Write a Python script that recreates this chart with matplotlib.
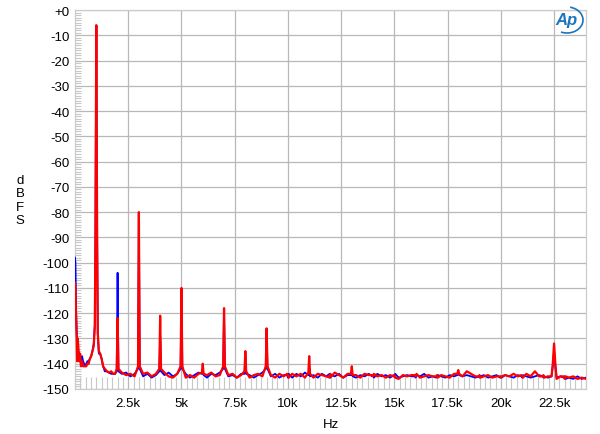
import matplotlib
matplotlib.use("Agg")
import matplotlib.pyplot as plt
from matplotlib.patches import Arc
from matplotlib.ticker import MultipleLocator

# ---------------- data (kHz, dBFS) ----------------
freq_low = [0.0, 0.02, 0.05, 0.08, 0.10, 0.13, 0.16, 0.20, 0.24, 0.28,
            0.33, 0.38, 0.43, 0.48, 0.53, 0.58, 0.64, 0.70, 0.76, 0.82,
            0.88, 0.93, 0.96, 1.00, 1.04, 1.07, 1.12, 1.18, 1.25, 1.32,
            1.40, 1.50, 1.60, 1.70, 1.80, 1.88]
blue_low = [-98, -100, -118, -128, -133, -131, -136, -139, -138, -140,
            -137, -139, -140, -141, -140, -139, -139, -138, -137, -135,
            -132, -125, -90, -6.2, -90, -128, -136, -136, -138, -141,
            -143, -143, -143.5, -144, -144, -144]
red_low = [-108, -110, -122, -130, -139, -130, -134, -139, -136, -141,
           -139, -141, -141, -141, -141, -140, -140, -138, -137, -135,
           -133, -125, -90, -6.0, -90, -128, -135, -136, -138, -141,
           -142, -143, -143.5, -143, -144, -144]

freq_mid = [1.96, 2.0, 2.04, 2.2, 2.4, 2.6, 2.8,
            2.96, 3.0, 3.04, 3.2, 3.4, 3.6, 3.8,
            3.96, 4.0, 4.04, 4.2, 4.4, 4.6, 4.8,
            4.96, 5.0, 5.04, 5.2, 5.4, 5.6, 5.8,
            5.96, 6.0, 6.04, 6.2, 6.4, 6.6, 6.8,
            6.96, 7.0, 7.04, 7.2, 7.4, 7.6, 7.8,
            7.96, 8.0, 8.04, 8.2, 8.4, 8.6, 8.8,
            8.96, 9.0, 9.04, 9.2, 9.4, 9.6, 9.8,
            9.96, 10.0, 10.04, 10.2, 10.4, 10.6, 10.8,
            10.96, 11.0, 11.04, 11.2, 11.4, 11.6, 11.8,
            11.96, 12.0, 12.04, 12.2, 12.4, 12.6, 12.8,
            12.96, 13.0, 13.04, 13.2, 13.4, 13.6, 13.8]
blue_mid = [-143, -104, -143, -144, -143.5, -145, -144,
            -142, -81, -142, -145, -144, -145.5, -144.5,
            -143, -129, -143, -144.5, -143.5, -145, -144,
            -142, -111, -142, -144, -145.5, -144.5, -143.5,
            -144, -143, -144.5, -145.5, -144, -144.5, -143.5,
            -142, -119, -142, -145, -144.5, -145.5, -144,
            -144, -137, -144, -144.5, -145.5, -144.5, -143.5,
            -142, -127, -142, -145, -144, -145.5, -144.5,
            -144.5, -145.5, -144, -145.5, -144, -145, -143.5,
            -144.5, -144, -145, -144.5, -145.5, -144, -145,
            -144, -145.5, -144.5, -145, -144, -145.5, -144.5,
            -144.5, -144, -145, -145.5, -144.5, -145, -144]
red_mid = [-142, -122, -142, -143.5, -144.5, -144, -145,
           -141, -80, -141, -144, -143.5, -145, -144,
           -142, -121, -142, -143.5, -145, -145.5, -144,
           -141, -110, -141, -145.5, -144.5, -145.5, -144,
           -143.5, -140, -144, -144.5, -143.5, -145, -144.5,
           -141, -118, -141, -144.5, -144, -145.5, -144.5,
           -143, -135, -143, -145.5, -144.5, -144, -145,
           -141, -126, -141, -144.5, -145.5, -144, -145,
           -144, -144.5, -145.5, -144, -145, -144, -145.5,
           -143.5, -137, -144, -145.5, -144, -144.5, -145,
           -145.5, -144, -145, -143.5, -144.5, -145.5, -144,
           -144, -141, -144.5, -144.5, -145.5, -144, -144.5]

freq_high = [13.96, 14.0, 14.04, 14.2, 14.4, 14.6, 14.8,
             14.96, 15.0, 15.04, 15.2, 15.4, 15.6, 15.8,
             15.96, 16.0, 16.04, 16.2, 16.4, 16.6, 16.8,
             16.96, 17.0, 17.04, 17.2, 17.4, 17.6, 17.8,
             17.96, 18.0, 18.04, 18.2, 18.4, 18.6, 18.8,
             18.96, 19.0, 19.04, 19.2, 19.4, 19.6, 19.8,
             19.96, 20.0, 20.04, 20.2, 20.4, 20.6, 20.8,
             20.96, 21.0, 21.04, 21.2, 21.4, 21.6, 21.8,
             21.96, 22.0, 22.04, 22.2, 22.38, 22.44, 22.5, 22.56, 22.62, 22.8,
             22.96, 23.0, 23.04, 23.2, 23.4, 23.6, 23.8, 24.0]
blue_high = [-145, -144.5, -145.5, -144, -145, -144.5, -145.5,
             -144.5, -145, -144, -145.5, -145, -144.5, -145,
             -145, -145.5, -144.5, -145, -144, -145.5, -145,
             -145.5, -145, -144.5, -145, -145.5, -144.5, -145,
             -144.5, -143.5, -144.5, -145, -144.5, -145, -145.5,
             -145, -145.5, -145, -144.5, -145.5, -145, -144.5,
             -145.5, -145, -145.5, -144.5, -145, -145.5, -144.5,
             -145, -145.5, -144.5, -145, -145.5, -145, -144.5,
             -145, -145.5, -145, -145.5, -145, -141, -135, -141, -145.5, -145,
             -145.5, -145, -146, -145.5, -146, -145, -146, -145.5]
red_high = [-144.5, -145, -144, -145, -144.5, -145.5, -144.5,
            -145, -144.5, -145.5, -146, -144.5, -145, -144.5,
            -144.5, -145, -144, -145.5, -145, -144.5, -145,
            -145, -144.5, -145.5, -144.5, -145, -145.5, -144,
            -144, -142.5, -144, -145, -143, -144, -145,
            -145, -144.5, -145.5, -145, -144.5, -145.5, -145,
            -145, -145.5, -145, -144.5, -145, -144, -145,
            -144.5, -145, -145.5, -144, -145, -143, -145,
            -145, -144.5, -145.5, -145, -145, -140, -132, -140, -146, -145,
            -145, -146, -145, -145.5, -145, -146, -145.5, -146]

y_ticks = [0, -10, -20, -30, -40, -50, -60, -70, -80, -90, -100,
           -110, -120, -130, -140, -150]
y_labels = ["+0", "-10", "-20", "-30", "-40", "-50", "-60", "-70", "-80",
            "-90", "-100", "-110", "-120", "-130", "-140", "-150"]
x_ticks = [2.5, 5, 7.5, 10, 12.5, 15, 17.5, 20, 22.5]
x_labels = ["2.5k", "5k", "7.5k", "10k", "12.5k", "15k", "17.5k", "20k", "22.5k"]

freq = freq_low + freq_mid + freq_high
blue = blue_low + blue_mid + blue_high
red = red_low + red_mid + red_high

# ---------------- figure ----------------
plt.rcParams['font.family'] = ['Liberation Sans', 'DejaVu Sans']
fig = plt.figure(figsize=(6.0, 4.35), dpi=100)
ax = fig.add_axes([75 / 600, 45 / 435, 511 / 600, 379 / 435])

grid_c = "#b8b8b8"
ax.plot(freq, blue, color="#0000ff", lw=1.3, zorder=3)
ax.plot(freq, red, color="#ff0000", lw=1.6, zorder=4)

ax.set_xlim(0, 24)
ax.set_ylim(-150, 0)
ax.set_yticks(y_ticks)
ax.set_yticklabels(y_labels)
ax.set_xticks(x_ticks)
ax.set_xticklabels(x_labels)
ax.yaxis.set_minor_locator(MultipleLocator(1))
ax.xaxis.set_minor_locator(MultipleLocator(0.25))
ax.grid(True, which="major", color=grid_c, lw=0.9)
ax.tick_params(axis="both", which="major", length=0, labelsize=9.5,
               colors="#000000", pad=4)
ax.tick_params(axis="y", which="minor", direction="in", length=4,
               color="#c8c8c8", width=0.8)
ax.tick_params(axis="x", which="minor", direction="in", length=9,
               color="#c8c8c8", width=0.8)
ax.tick_params(axis="x", which="major", pad=6)
for s in ax.spines.values():
    s.set_color("#cccccc")
    s.set_linewidth(0.9)

ax.set_xlabel("Hz", fontsize=9.5, labelpad=6)
fig.text(20 / 600, 1 - 201 / 435, "d\nB\nF\nS", ha="center", va="center",
         fontsize=9.5, linespacing=1.15)

# Ap logo
fig.text(566 / 600, 1 - 21 / 435, "Ap", ha="center", va="center",
         fontsize=12, style="italic", color="#1b75bc", fontweight="bold")
logo = Arc((567 / 600, 1 - 21 / 435), 32 / 600, 26 / 435, angle=0,
           theta1=-110, theta2=80, transform=fig.transFigure,
           color="#1b75bc", lw=1.2)
fig.add_artist(logo)

fig.savefig("out.png", dpi=100)
